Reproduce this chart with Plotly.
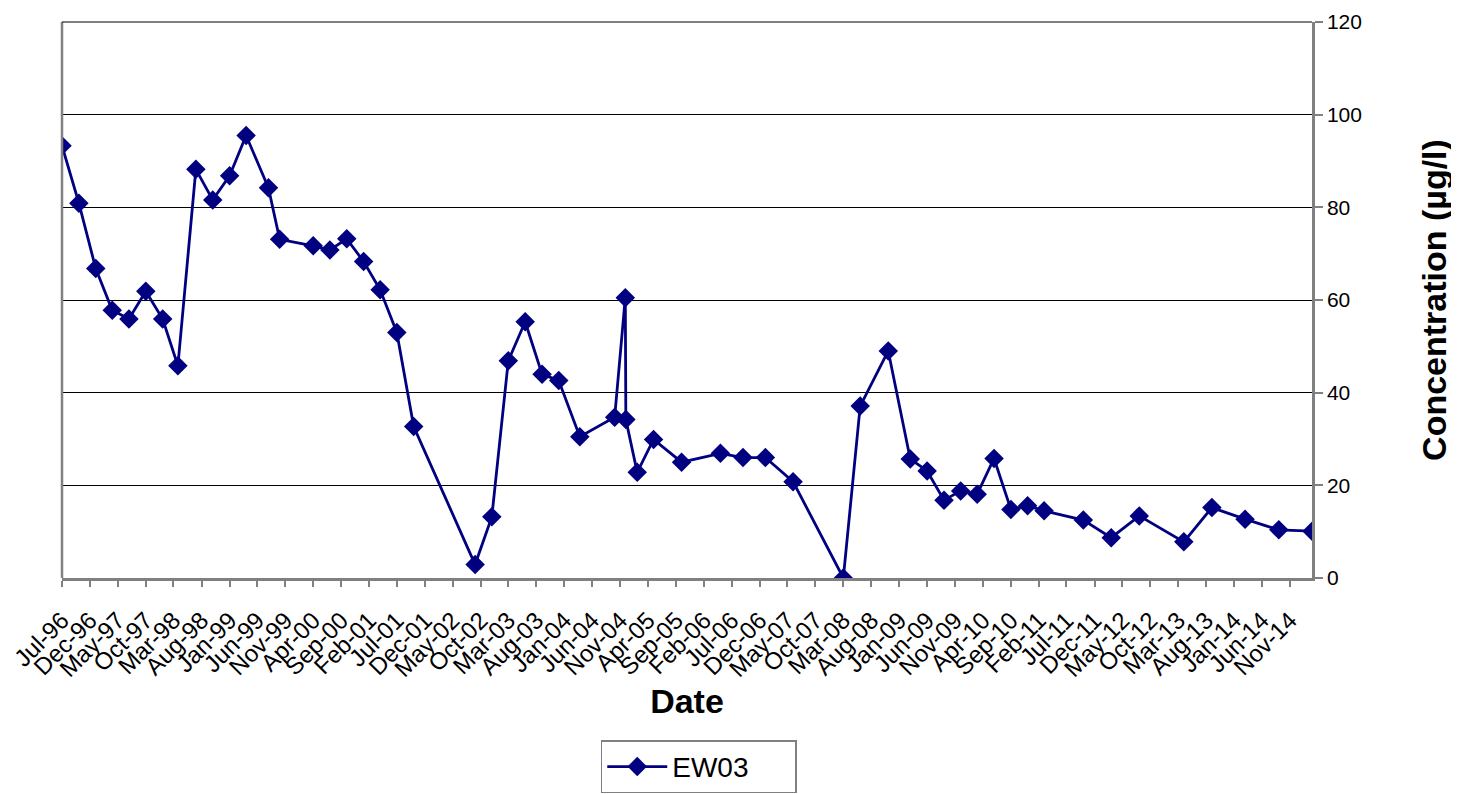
import plotly.graph_objects as go
import pandas as pd

dates = ["1996-07-01","1996-10-01","1997-01-01","1997-04-01","1997-07-01","1997-10-01",
         "1998-01-01","1998-03-25","1998-07-01","1998-10-01","1999-01-01","1999-04-01",
         "1999-08-01","1999-10-01","2000-04-01","2000-07-01","2000-10-01","2001-01-01",
         "2001-04-01","2001-07-01","2001-10-01","2002-09-01","2002-12-01","2003-03-01",
         "2003-06-01","2003-09-01","2003-12-01","2004-03-25","2004-10-01","2004-11-28",
         "2004-12-01","2005-02-01","2005-05-01","2005-10-01","2006-05-01","2006-09-01",
         "2007-01-01","2007-06-01","2008-03-01","2008-06-01","2008-11-01","2009-03-01",
         "2009-06-01","2009-09-01","2009-12-01","2010-03-01","2010-06-01","2010-09-01",
         "2010-12-01","2011-03-01","2011-10-01","2012-03-01","2012-08-01","2013-04-01",
         "2013-09-01","2014-03-01","2014-09-01","2015-03-01"]
ew03 = [93.3,80.9,66.8,57.8,55.9,61.9,
        55.9,45.8,88.2,81.6,86.8,95.5,
        84.2,73.1,71.7,70.8,73.2,68.3,
        62.2,53.0,32.7,2.9,13.2,46.9,
        55.3,44.0,42.6,30.5,34.7,60.5,
        34.2,22.8,29.9,25.0,26.9,26.0,
        26.0,20.8,0.0,37.1,49.0,25.7,
        23.1,16.8,18.8,18.1,25.8,14.8,
        15.6,14.5,12.5,8.7,13.4,7.8,
        15.2,12.7,10.4,10.1]

tick_dates = pd.date_range("1996-07-01", "2014-11-01", freq="5MS")
tick_text = [d.strftime("%b-%y") for d in tick_dates]
y_ticks = [0, 20, 40, 60, 80, 100, 120]

NAVY = "#000080"
FONT = "Liberation Sans, Arial, sans-serif"

fig = go.Figure()
fig.add_trace(go.Scatter(
    x=dates, y=ew03, mode="lines+markers", name="EW03",
    line=dict(color=NAVY, width=2.8),
    marker=dict(symbol="diamond", size=15, color=NAVY),
))

fig.update_layout(
    width=1451, height=786,
    margin=dict(l=54, r=147, t=14, b=216, autoexpand=False),
    paper_bgcolor="white", plot_bgcolor="white",
    font=dict(family=FONT, color="black", size=22),
    showlegend=True,
    legend=dict(
        orientation="h", x=0.431, xanchor="left", y=-0.292, yanchor="top",
        bordercolor="#808080", borderwidth=1.5, font=dict(size=28),
        itemwidth=60, entrywidth=118,
    ),
)
fig.update_xaxes(
    type="date", range=["1996-07-01", "2015-03-01"], automargin=False,
    tickmode="array", tickvals=list(tick_dates), ticktext=tick_text,
    tickangle=-45, tickfont=dict(size=24), ticklabelstandoff=10,
    ticks="outside", ticklen=6, tickcolor="#808080", tickwidth=1.5,
    showgrid=False, showline=True, linecolor="#808080", linewidth=2.5, mirror=False,
    zeroline=False,
    title=dict(text="<b>Date</b>", font=dict(size=34), standoff=6),
)
fig.update_yaxes(
    range=[0, 120], tickvals=y_ticks, side="right", automargin=False,
    ticks="outside", ticklen=8, tickcolor="#808080", tickwidth=1.5,
    tickfont=dict(size=21),
    showgrid=True, gridcolor="black", gridwidth=1,
    showline=True, linecolor="#808080", linewidth=2.5, zeroline=False,
    title=dict(text="<b>Concentration (µg/l)</b>", font=dict(size=34), standoff=62),
)
# left border of plot area and top border
fig.add_shape(type="line", xref="paper", yref="paper", x0=0, x1=0, y0=0, y1=1,
              line=dict(color="#808080", width=2.5))
fig.add_shape(type="line", xref="paper", yref="paper", x0=0, x1=1, y0=1, y1=1,
              line=dict(color="black", width=1))

fig.write_html("out.html")
